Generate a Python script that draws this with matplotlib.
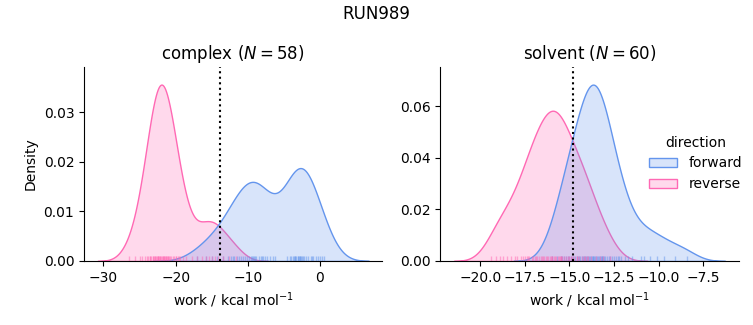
import numpy as np
import pandas as pd
import matplotlib
matplotlib.use("Agg")
import matplotlib.pyplot as plt
import seaborn as sns

# work values (kcal/mol)
complex_forward = [
    -17.0, -15.8, -14.9, -14.2, -13.5,
    -12.8, -12.3, -11.9, -11.5, -11.0, -10.7, -10.4, -10.1, -12.0, -11.2,
    -9.8, -9.5, -9.3, -9.0, -8.8, -8.5, -8.2, -7.9, -7.6, -7.3, -9.1, -8.0,
    -6.9, -6.5, -3.4, -2.8, -9.4, -3.0, -6.3,
    -2.5, -4.5, -4.2, -4.0, -3.8, -3.5, -3.3, -3.1, -2.9, -2.7, -2.4, -2.2,
    -1.9, -1.6, -1.3, -3.6, -2.6,
    -0.9, -0.6, -0.3, 0.0, 0.3, 0.6, -1.1,
]
complex_reverse = [
    -26.4, -25.6, -25.0, -24.6, -24.3, -24.0, -23.8, -23.6, -23.4, -23.2,
    -23.0, -22.9, -22.8, -22.6, -22.5, -22.4, -22.3, -22.2, -22.1, -22.0,
    -21.9, -21.8, -21.7, -21.6, -21.5, -21.4, -21.3, -21.2, -21.0, -20.8,
    -20.6, -20.4, -20.2, -20.0, -19.7, -19.4, -19.0, -18.6, -19.9, -19.5,
    -22.45, -21.55, -22.7, -21.1, -23.1, -20.9, -23.5,
    -17.8, -17.0, -16.3, -15.8, -15.4, -15.0, -14.6, -14.1, -13.5, -12.6, -11.6,
]
solvent_forward = [
    -16.0, -15.7, -15.5,
    -15.4, -15.3, -15.2, -15.1, -15.0, -14.9, -14.8, -14.7, -14.6, -14.5,
    -14.45, -14.4, -14.3, -14.25, -14.2, -14.1, -14.05, -14.0,
    -13.95, -13.9, -13.85, -13.8, -13.75, -13.7, -13.6, -13.55, -13.5, -13.45,
    -13.4, -13.35, -13.3, -13.2, -13.15, -13.1, -13.05, -13.0,
    -12.9, -12.8, -12.7, -12.6, -12.5, -12.4, -12.3, -12.2, -12.1,
    -11.9, -11.7, -11.5, -13.65, -13.25, -11.0,
    -10.8, -10.5, -10.1, -9.7, -9.1, -8.4,
]
solvent_reverse = [
    -19.4, -19.1,
    -18.9, -18.7, -18.5, -18.3, -18.05,
    -17.95, -17.7, -17.6, -17.5, -17.4, -17.3, -17.25, -17.1, -17.05,
    -16.95, -16.85, -16.8, -16.7, -16.6, -16.55, -16.5, -16.4, -16.3,
    -16.25, -16.2, -16.1, -16.05, -16.0,
    -15.95, -15.85, -15.8, -15.75, -15.65, -15.6, -15.55, -15.5, -15.45,
    -15.4, -15.3, -15.2, -15.1, -15.05,
    -14.9, -14.85, -14.75, -14.6, -14.55, -14.45, -14.3, -14.2, -14.15,
    -14.0, -13.95,
    -13.8, -13.5, -13.3, -13.1,
    -12.7,
]

phases = ["complex", "solvent"]
free_energy = {"complex": -13.9, "solvent": -14.8}
palette = {"forward": "cornflowerblue", "reverse": "hotpink"}

rows = []
n_samples = {}
for phase, fwd, rev in [("complex", complex_forward, complex_reverse),
                        ("solvent", solvent_forward, solvent_reverse)]:
    n_samples[phase] = len(fwd)
    rows += [(phase, "forward", w) for w in fwd]
    rows += [(phase, "reverse", w) for w in rev]
df = pd.DataFrame(rows, columns=["phase", "direction", "work"])

g = sns.displot(
    data=df, x="work", hue="direction", col="phase", col_order=phases,
    kind="kde", fill=True, rug=True, palette=palette,
    rug_kws=dict(alpha=0.5),
    facet_kws=dict(sharex=False, sharey=False),
)
fig = g.figure
fig.set_size_inches(7.53, 3.25)
fig.subplots_adjust(left=0.1116, right=0.981, bottom=0.197, top=0.794, wspace=0.194)

for ax, phase in zip(g.axes.flat, phases):
    ax.set_title(f"{phase} ($N = {n_samples[phase]}$)")
    ax.axvline(free_energy[phase], color="k", ls=":")
    ax.set_xlabel("work / kcal mol$^{-1}$")

sns.move_legend(g, "center right", bbox_to_anchor=(1.002, 0.497), frameon=False)
fig.suptitle("RUN989", y=0.985)

fig.savefig("out.png", dpi=100)
